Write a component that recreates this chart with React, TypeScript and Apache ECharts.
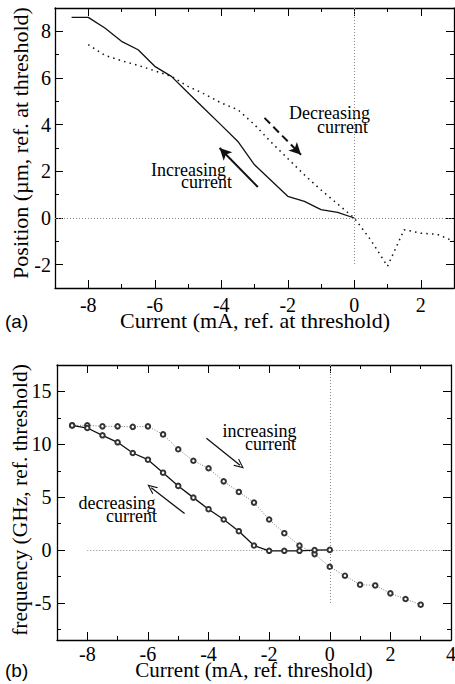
import React, { useEffect, useRef } from "react";
import * as echarts from "echarts";

// ---------- Panel (a): position vs current ----------
const currentIncA = [-8.5, -8, -7.5, -7, -6.5, -6, -5.5, -5, -4.5, -4, -3.5, -3, -2, -1.5, -1, -0.5, 0];
const positionIncA = [8.6, 8.6, 8.14, 7.57, 7.21, 6.5, 6.07, 5.37, 4.67, 3.98, 3.28, 2.28, 0.93, 0.71, 0.36, 0.24, 0];
const currentDecA = [-8, -7.5, -7, -6.5, -6, -5.5, -5, -4.5, -4, -3.5, -3, -2.5, -2, -1.5, -1, -0.5, 0, 0.5, 1, 1.5, 2, 2.5, 3];
const positionDecA = [7.43, 6.97, 6.74, 6.54, 6.31, 6.07, 5.64, 5.31, 4.93, 4.64, 4.0, 3.25, 2.55, 1.85, 1.2, 0.6, 0, -0.95, -2.07, -0.5, -0.65, -0.7, -1.0];

const xMajorA = [-8, -6, -4, -2, 0, 2];
const xMinorA = [-8, -7, -6, -5, -4, -3, -2, -1, 0, 1, 2];
const yMajorA = [-2, 0, 2, 4, 6, 8];
const yMinorA = [-2, -1, 0, 1, 2, 3, 4, 5, 6, 7, 8];
const xRangeA = [-9, 3];
const yRangeA = [-3, 9];
const refLinesA = [
  [[-9, 0], [3, 0]],
  [[0, 9], [0, -2]],
];
const arrowsA = [
  { from: [-2.7, 4.29], to: [-1.6, 2.71], dashed: true },
  { from: [-2.9, 1.33], to: [-4.05, 3.0], dashed: false },
];

// ---------- Panel (b): frequency vs current ----------
const currentUpB = [-8.5, -8, -7.5, -7, -6.5, -6, -5.5, -5, -4.5, -4, -3.5, -3, -2.5, -2, -1.5, -1, -0.5, 0, 0.5, 1, 1.5, 2, 2.5, 3];
const freqUpB = [11.79, 11.8, 11.7, 11.7, 11.65, 11.7, 10.94, 9.53, 8.45, 7.74, 6.5, 5.5, 4.49, 2.89, 1.6, 0.43, -0.38, -1.58, -2.42, -3.27, -3.34, -4.09, -4.62, -5.16];
const currentDownB = [-8.5, -8, -7.5, -7, -6.5, -6, -5.5, -5, -4.5, -4, -3.5, -3, -2.5, -2, -1.5, -1, -0.5, 0];
const freqDownB = [11.79, 11.54, 10.85, 10.19, 9.18, 8.55, 7.32, 6.07, 4.96, 3.87, 2.89, 1.79, 0.43, -0.07, -0.07, -0.07, 0.0, 0.02];

const xMajorB = [-8, -6, -4, -2, 0, 2, 4];
const xMinorB = [-8, -7, -6, -5, -4, -3, -2, -1, 0, 1, 2, 3];
const yMajorB = [-5, 0, 5, 10, 15];
const yMinorB = [-7.5, -5, -2.5, 0, 2.5, 5, 7.5, 10, 12.5, 15];
const xRangeB = [-9, 4];
const yRangeB = [-8.5, 17.5];
const refLinesB = [
  [[-8, 0], [4, 0]],
  [[0, 17.5], [0, -5]],
];
const arrowsB = [
  { from: [-4.07, 10.57], to: [-2.96, 8.02] },
  { from: [-4.79, 3.45], to: [-5.89, 5.9] },
];

const SERIF = "Liberation Serif";
const SANS = "Liberation Sans";

const zip = (xs: number[], ys: number[]) => xs.map((x, i) => [x, ys[i]]);

function makeAxis(
  gridIndex: number,
  position: string,
  range: number[],
  ticks: number[],
  major: boolean,
  showLabel: boolean,
  labelMargin: number
) {
  return {
    type: "value",
    gridIndex,
    position,
    min: range[0],
    max: range[1],
    axisLine: { show: major, onZero: false, lineStyle: { color: "#000", width: 1.3 } },
    axisTick: {
      show: true,
      inside: true,
      length: major ? 8 : 4,
      customValues: ticks,
      lineStyle: { color: "#000", width: 1 },
    },
    axisLabel: {
      show: showLabel,
      customValues: ticks,
      margin: labelMargin,
      color: "#000",
      fontFamily: SERIF,
      fontSize: 20,
      lineHeight: 14,
      verticalAlign: "middle",
      showMinLabel: true,
      showMaxLabel: true,
      hideOverlap: false,
    },
    splitLine: { show: false },
    minorTick: { show: false },
    silent: true,
  };
}

function refSeries(xi: number, yi: number, lines: number[][][]) {
  return {
    type: "line",
    xAxisIndex: xi,
    yAxisIndex: yi,
    data: [],
    silent: true,
    markLine: {
      silent: true,
      symbol: ["none", "none"],
      label: { show: false },
      emphasis: { disabled: true },
      lineStyle: { color: "#888", width: 1, type: [1, 2] },
      data: lines.map((l) => [{ coord: l[0] }, { coord: l[1] }]),
    },
  };
}

const VHEAD = "path://M5,0 L10,12 L8.6,12 L5,3.2 L1.4,12 L0,12 Z";

export default function App() {
  const ref = useRef<HTMLDivElement>(null);
  useEffect(() => {
    if (!ref.current) return;
    const chart = echarts.init(ref.current, undefined, { renderer: "svg" });

    const xAxis = [
      makeAxis(0, "bottom", xRangeA, xMajorA, true, true, 16.5),
      makeAxis(0, "bottom", xRangeA, xMinorA, false, false, 0),
      makeAxis(0, "top", xRangeA, xMajorA, true, false, 0),
      makeAxis(0, "top", xRangeA, xMinorA, false, false, 0),
      makeAxis(1, "bottom", xRangeB, xMajorB, true, true, 14),
      makeAxis(1, "bottom", xRangeB, xMinorB, false, false, 0),
      makeAxis(1, "top", xRangeB, xMajorB, true, false, 0),
      makeAxis(1, "top", xRangeB, xMinorB, false, false, 0),
    ];
    const yAxis = [
      makeAxis(0, "left", yRangeA, yMajorA, true, true, 4),
      makeAxis(0, "left", yRangeA, yMinorA, false, false, 0),
      makeAxis(0, "right", yRangeA, yMajorA, true, false, 0),
      makeAxis(0, "right", yRangeA, yMinorA, false, false, 0),
      makeAxis(1, "left", yRangeB, yMajorB, true, true, 5.5),
      makeAxis(1, "left", yRangeB, yMinorB, false, false, 0),
      makeAxis(1, "right", yRangeB, yMajorB, true, false, 0),
      makeAxis(1, "right", yRangeB, yMinorB, false, false, 0),
    ];

    const series: any[] = [
      refSeries(0, 0, refLinesA),
      refSeries(4, 4, refLinesB),
      {
        name: "Increasing current",
        type: "line",
        xAxisIndex: 0,
        yAxisIndex: 0,
        data: zip(currentIncA, positionIncA),
        symbol: "none",
        lineStyle: { color: "#111", width: 1.3 },
        z: 4,
      },
      {
        name: "Decreasing current",
        type: "line",
        xAxisIndex: 0,
        yAxisIndex: 0,
        data: zip(currentDecA, positionDecA),
        symbol: "none",
        lineStyle: { color: "#111", width: 1.5, type: [1.5, 4.2] },
        z: 4,
      },
      {
        type: "line",
        xAxisIndex: 0,
        yAxisIndex: 0,
        data: [],
        silent: true,
        markLine: {
          silent: true,
          label: { show: false },
          emphasis: { disabled: true },
          symbolSize: [9, 12],
          data: arrowsA.map((a) => [
            {
              coord: a.from,
              symbol: "none",
              lineStyle: { color: "#111", width: 2, type: a.dashed ? [8, 4.5] : "solid" },
            },
            { coord: a.to, symbol: "arrow" },
          ]),
        },
      },
      {
        name: "increasing current",
        type: "line",
        xAxisIndex: 4,
        yAxisIndex: 4,
        data: zip(currentUpB, freqUpB),
        symbol: "emptyCircle",
        symbolSize: 4.5,
        showSymbol: true,
        lineStyle: { color: "#777", width: 1, type: [1, 1.6] },
        itemStyle: { color: "#333", borderColor: "#333", borderWidth: 0.9 },
        z: 4,
      },
      {
        name: "decreasing current",
        type: "line",
        xAxisIndex: 4,
        yAxisIndex: 4,
        data: zip(currentDownB, freqDownB),
        symbol: "emptyCircle",
        symbolSize: 4.5,
        showSymbol: true,
        lineStyle: { color: "#111", width: 1.3 },
        itemStyle: { color: "#333", borderColor: "#333", borderWidth: 0.9 },
        z: 5,
      },
      {
        type: "line",
        xAxisIndex: 4,
        yAxisIndex: 4,
        data: [],
        silent: true,
        markLine: {
          silent: true,
          label: { show: false },
          emphasis: { disabled: true },
          symbolSize: [9, 10],
          data: arrowsB.map((a) => [
            { coord: a.from, symbol: "none", lineStyle: { color: "#111", width: 1.3, type: "solid" } },
            { coord: a.to, symbol: VHEAD },
          ]),
        },
      },
    ];

    const txt = (
      text: string,
      x: number,
      y: number,
      size: number,
      lh: number,
      align = "right",
      font = SERIF,
      rotation = 0
    ) => ({
      type: "text",
      x,
      y,
      rotation,
      silent: true,
      style: {
        text,
        fill: "#000",
        fontFamily: font,
        fontSize: size,
        lineHeight: lh,
        textAlign: align,
        textVerticalAlign: "middle",
      },
    });

    const graphic = [
      txt("Decreasing", 370, 113.2, 18, 13),
      txt("current", 368, 126.6, 18, 13),
      txt("Increasing", 226, 170, 18, 12),
      txt("current", 232, 182.2, 18, 12),
      txt("increasing", 296.5, 430.6, 18, 13),
      txt("current", 296, 443.9, 18, 13),
      txt("decreasing", 155.5, 503.2, 18, 12),
      txt("current", 157, 515.6, 18, 12),
      txt("Current (mA, ref. at threshold)", 255, 320, 22, 16, "center"),
      txt("Current (mA, ref. threshold)", 254, 670, 21, 16, "center"),
      txt("Position (\u00b5m, ref. at threshold)", 20, 143, 22, 18, "center", SERIF, Math.PI / 2),
      txt("frequency (GHz, ref. threshold)", 20, 500, 21.5, 18, "center", SERIF, Math.PI / 2),
      txt("(a)", 5, 321.5, 19, 18, "left", SANS),
      txt("(b)", 5, 670, 19, 18, "left", SANS),
    ];

    chart.setOption({
      animation: false,
      backgroundColor: "#fff",
      textStyle: { fontFamily: SERIF },
      grid: [
        { left: 55, top: 8, width: 399, height: 280, containLabel: false, outerBoundsMode: "none" },
        { left: 57, top: 365, width: 394, height: 275, containLabel: false, outerBoundsMode: "none" },
      ],
      xAxis,
      yAxis,
      series,
      graphic,
    } as any);
    return () => chart.dispose();
  }, []);
  return (
    <div
      ref={ref}
      style={{ position: "absolute", left: 0, top: 0, width: 455, height: 684, background: "#fff" }}
    />
  );
}
